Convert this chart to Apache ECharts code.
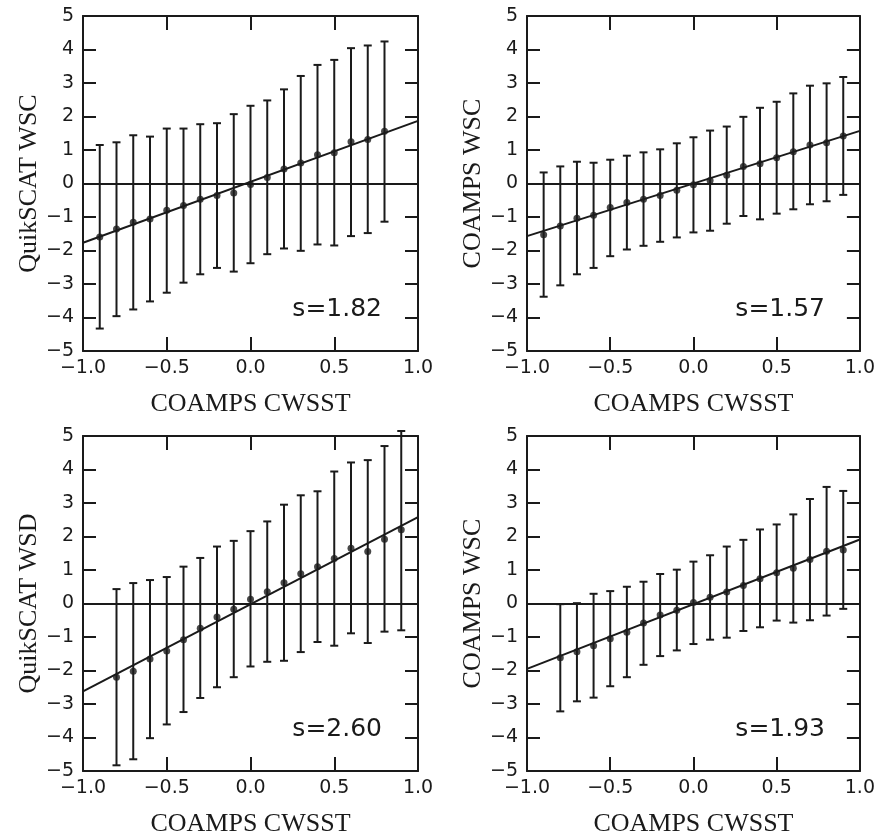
<!DOCTYPE html>
<html><head><meta charset="utf-8">
<script src="https://cdn.jsdelivr.net/npm/echarts@6/dist/echarts.min.js"></script>
<style>html,body{margin:0;padding:0;background:#fff}#c{width:878px;height:838px}</style>
</head><body><div id="c"></div>
<script>
// ---- data ----
const xTitle = 'COAMPS CWSST';
const yTitles = ['QuikSCAT WSC', 'COAMPS WSC', 'QuikSCAT WSD', 'COAMPS WSC'];
const slopes = [1.82, 1.57, 2.60, 1.93];
const slopeLabels = ['s=1.82', 's=1.57', 's=2.60', 's=1.93'];
const intercepts = [0.05, 0.0, -0.02, -0.02];

const tlX    = [-0.9,-0.8,-0.7,-0.6,-0.5,-0.4,-0.3,-0.2,-0.1,0.0,0.1,0.2,0.3,0.4,0.5,0.6,0.7,0.8];
const tlMean = [-1.60,-1.36,-1.16,-1.06,-0.80,-0.66,-0.47,-0.36,-0.28,-0.03,0.18,0.43,0.61,0.86,0.92,1.25,1.31,1.56];
const tlHigh = [1.15,1.23,1.44,1.40,1.64,1.64,1.77,1.80,2.07,2.32,2.48,2.81,3.21,3.54,3.69,4.04,4.12,4.24];
const tlLow  = [-4.33,-3.96,-3.76,-3.52,-3.26,-2.96,-2.71,-2.52,-2.63,-2.38,-2.11,-1.94,-2.01,-1.82,-1.85,-1.57,-1.48,-1.14];

const trX    = [-0.9,-0.8,-0.7,-0.6,-0.5,-0.4,-0.3,-0.2,-0.1,0.0,0.1,0.2,0.3,0.4,0.5,0.6,0.7,0.8,0.9];
const trMean = [-1.53,-1.27,-1.04,-0.95,-0.72,-0.57,-0.47,-0.36,-0.20,-0.04,0.09,0.25,0.51,0.59,0.77,0.95,1.15,1.22,1.42];
const trHigh = [0.33,0.51,0.65,0.62,0.71,0.83,0.93,1.02,1.20,1.38,1.58,1.70,1.99,2.26,2.44,2.69,2.92,2.99,3.18];
const trLow  = [-3.38,-3.04,-2.71,-2.52,-2.17,-1.97,-1.86,-1.74,-1.61,-1.46,-1.41,-1.20,-0.97,-1.07,-0.90,-0.77,-0.62,-0.53,-0.34];

const blX    = [-0.8,-0.7,-0.6,-0.5,-0.4,-0.3,-0.2,-0.1,0.0,0.1,0.2,0.3,0.4,0.5,0.6,0.7,0.8,0.9];
const blMean = [-2.20,-2.02,-1.66,-1.42,-1.08,-0.74,-0.40,-0.17,0.13,0.35,0.62,0.89,1.10,1.34,1.65,1.55,1.92,2.20];
const blHigh = [0.43,0.61,0.70,0.79,1.10,1.36,1.70,1.87,2.16,2.45,2.95,3.23,3.35,3.94,4.21,4.28,4.70,5.15];
const blLow  = [-4.83,-4.65,-4.02,-3.61,-3.24,-2.82,-2.50,-2.20,-1.88,-1.74,-1.71,-1.45,-1.15,-1.26,-0.89,-1.18,-0.84,-0.80];

const brX    = [-0.8,-0.7,-0.6,-0.5,-0.4,-0.3,-0.2,-0.1,0.0,0.1,0.2,0.3,0.4,0.5,0.6,0.7,0.8,0.9];
const brMean = [-1.62,-1.44,-1.26,-1.05,-0.86,-0.58,-0.34,-0.20,0.03,0.19,0.34,0.54,0.74,0.92,1.05,1.31,1.56,1.60];
const brHigh = [-0.02,0.01,0.29,0.37,0.50,0.65,0.88,1.01,1.25,1.44,1.70,1.90,2.21,2.36,2.66,3.12,3.48,3.36];
const brLow  = [-3.22,-2.92,-2.81,-2.47,-2.20,-1.83,-1.57,-1.40,-1.21,-1.08,-1.02,-0.82,-0.71,-0.51,-0.57,-0.50,-0.36,-0.16];

const xRange = [-1, 1];
const yRange = [-5, 5];

const panels = [
  {x: tlX, mean: tlMean, hi: tlHigh, lo: tlLow},
  {x: trX, mean: trMean, hi: trHigh, lo: trLow},
  {x: blX, mean: blMean, hi: blHigh, lo: blLow},
  {x: brX, mean: brMean, hi: brHigh, lo: brLow}
];

// ---- layout ----
const INK = '#1a1a1a';
const grids = [
  {left: 83,  top: 16,  width: 335, height: 335},
  {left: 527, top: 16,  width: 334, height: 335},
  {left: 83,  top: 436, width: 335, height: 335},
  {left: 527, top: 436, width: 334, height: 335}
];
const sansFont = 'DejaVu Sans';
const serifFont = 'Liberation Serif';
const fmtX = v => v.toFixed(1).replace('-', '\u2212');
const fmtY = v => String(Math.round(v)).replace('-', '\u2212');

const xAxes = [], yAxes = [], series = [], graphics = [];
grids.forEach((g, i) => {
  g.containLabel = false;
  xAxes.push({
    gridIndex: i, type: 'value', position: 'bottom', min: xRange[0], max: xRange[1], interval: 0.5,
    axisLine: {show: true, onZero: false, lineStyle: {color: INK, width: 2}},
    axisTick: {show: true, inside: true, length: 14, lineStyle: {color: INK, width: 2}},
    axisLabel: {show: true, formatter: fmtX, fontFamily: sansFont, fontSize: 19, color: INK, margin: 8, hideOverlap: false},
    splitLine: {show: false},
    name: xTitle, nameLocation: 'middle', nameGap: 40,
    nameTextStyle: {fontFamily: serifFont, fontSize: 26, color: INK}
  });
  xAxes.push({
    gridIndex: i, type: 'value', position: 'top', min: xRange[0], max: xRange[1], interval: 0.5,
    axisLine: {show: true, onZero: false, lineStyle: {color: INK, width: 2}},
    axisTick: {show: true, inside: true, length: 14, lineStyle: {color: INK, width: 2}},
    axisLabel: {show: false}, splitLine: {show: false}
  });
  yAxes.push({
    gridIndex: i, type: 'value', position: 'left', min: yRange[0], max: yRange[1], interval: 1,
    axisLine: {show: true, onZero: false, lineStyle: {color: INK, width: 2}},
    axisTick: {show: true, inside: true, length: 13, lineStyle: {color: INK, width: 2}},
    axisLabel: {show: true, formatter: fmtY, fontFamily: sansFont, fontSize: 19, color: INK, margin: 9, hideOverlap: false},
    splitLine: {show: false},
    name: yTitles[i], nameLocation: 'middle', nameGap: 33,
    nameTextStyle: {fontFamily: serifFont, fontSize: 26, color: INK}
  });
  yAxes.push({
    gridIndex: i, type: 'value', position: 'right', min: yRange[0], max: yRange[1], interval: 1,
    axisLine: {show: true, onZero: false, lineStyle: {color: INK, width: 2}},
    axisTick: {show: true, inside: true, length: 13, lineStyle: {color: INK, width: 2}},
    axisLabel: {show: false}, splitLine: {show: false}
  });

  const p = panels[i];
  const s = slopes[i], a = intercepts[i];
  // regression line + zero line
  series.push({
    type: 'line', xAxisIndex: 2 * i, yAxisIndex: 2 * i, symbol: 'none', silent: true,
    data: xRange.map(x => [x, a + s * x]),
    lineStyle: {color: INK, width: 2}, z: 3,
    markLine: {
      silent: true, symbol: 'none', label: {show: false},
      lineStyle: {color: INK, width: 1.8, type: 'solid'},
      data: [{yAxis: 0}]
    }
  });
  // error bars
  series.push({
    type: 'custom', xAxisIndex: 2 * i, yAxisIndex: 2 * i, silent: true, clip: false, z: 4,
    data: p.x.map((x, k) => [x, p.lo[k], p.hi[k]]),
    encode: {x: 0, y: [1, 2]},
    renderItem: (params, api) => {
      const x = api.value(0);
      const top = api.coord([x, api.value(2)]);
      const bot = api.coord([x, api.value(1)]);
      const hw = 4;
      const st = {stroke: INK, lineWidth: 2};
      return {type: 'group', children: [
        {type: 'line', shape: {x1: top[0], y1: top[1], x2: bot[0], y2: bot[1]}, style: st},
        {type: 'line', shape: {x1: top[0] - hw, y1: top[1], x2: top[0] + hw, y2: top[1]}, style: st},
        {type: 'line', shape: {x1: bot[0] - hw, y1: bot[1], x2: bot[0] + hw, y2: bot[1]}, style: st}
      ]};
    }
  });
  // mean points
  series.push({
    type: 'scatter', xAxisIndex: 2 * i, yAxisIndex: 2 * i, silent: true, z: 5,
    symbol: 'circle', symbolSize: 7, itemStyle: {color: INK},
    data: p.x.map((x, k) => [x, p.mean[k]])
  });
  graphics.push({
    type: 'text', x: g.left + g.width - 36, y: g.top + g.height - 42,
    style: {text: slopeLabels[i], fontFamily: sansFont, fontSize: 25, fill: INK, textAlign: 'right', textVerticalAlign: 'middle'}
  });
});

const chart = echarts.init(document.getElementById('c'), null, {renderer: 'canvas'});
chart.setOption({
  animation: false,
  backgroundColor: '#fff',
  grid: grids,
  xAxis: xAxes,
  yAxis: yAxes,
  series: series,
  graphic: graphics
});
</script>
</body></html>
